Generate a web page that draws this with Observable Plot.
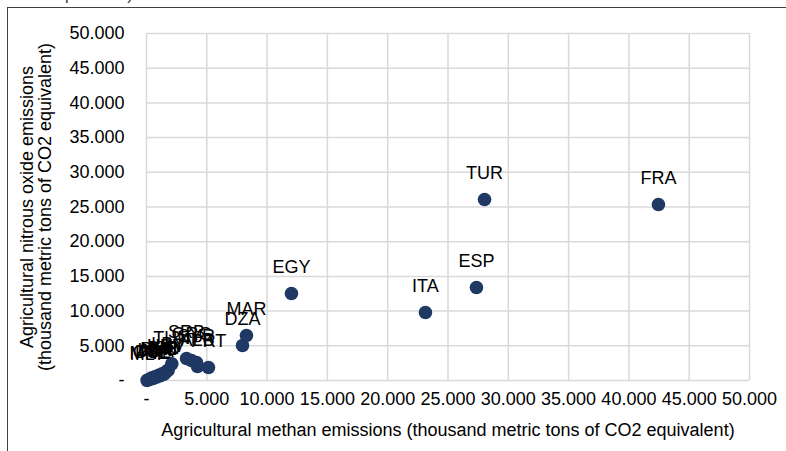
<!DOCTYPE html>
<html><head><meta charset="utf-8">
<script src="https://cdn.jsdelivr.net/npm/d3@7"></script>
<script src="https://cdn.jsdelivr.net/npm/@observablehq/plot@0.6"></script>
<style>
html,body{margin:0;padding:0;background:#fff;overflow:hidden}
#wrap{position:relative;width:786px;height:451px;font-family:"Liberation Sans",Arial,sans-serif}
#wrap svg{display:block}
#frame{position:absolute;left:7px;top:7px;width:800px;height:470px;border-left:1px solid #404040;border-top:1px solid #404040;pointer-events:none}
#title{position:absolute;left:10px;top:-14px;font-size:17px;line-height:17px;color:#404040;white-space:nowrap}
</style></head><body>
<div id="wrap"><div id="title">CO2 equivalent)</div><div id="frame"></div></div>
<script>
const countries = ["MLT","MNE","CYP","PSE","LBN","JOR","SVN","MKD","BIH","ISR","HRV","LBY","TUN","SRB","GRC","SYR","ALB","PRT","DZA","MAR","EGY","ITA","ESP","TUR","FRA"];
const methane  = [50, 250, 400, 550, 700, 850, 1000, 1150, 1300, 1450, 1600, 1800, 2100, 3320, 3730, 4150, 4230, 5140, 7960, 8290, 12020, 23130, 27360, 28030, 42450];
const nitrous  = [20, 150, 350, 300, 550, 500, 750, 700, 950, 900, 1200, 1500, 2400, 3170, 2880, 2590, 2020, 1870, 5040, 6480, 12540, 9800, 13400, 26080, 25360];
const axisTicks = [0, 5000, 10000, 15000, 20000, 25000, 30000, 35000, 40000, 45000, 50000];

const data = countries.map((c, i) => ({country: c, methane: methane[i], nitrous: nitrous[i]}));
const fmt = d => d === 0 ? "-" : d3.format(",")(d).replace(/,/g, ".");

const chart = Plot.plot({
  width: 786,
  height: 451,
  marginLeft: 146,
  marginRight: 37,
  marginTop: 33,
  marginBottom: 71,
  style: {fontFamily: '"Liberation Sans", Arial, sans-serif', fontSize: "18px", color: "#000", background: "transparent", overflow: "visible"},
  x: {domain: [0, 50000], ticks: axisTicks, tickFormat: fmt, tickSize: 0, tickPadding: 12,
      label: "Agricultural methan emissions (thousand metric tons of CO2 equivalent)", labelAnchor: "center", labelOffset: 55, labelArrow: "none"},
  y: {domain: [0, 50000], ticks: axisTicks, tickFormat: fmt, tickSize: 0, tickPadding: 22,
      label: "Agricultural nitrous oxide emissions\n(thousand metric tons of CO2 equivalent)", labelAnchor: "center", labelOffset: 126, labelArrow: "none"},
  marks: [
    Plot.gridX(axisTicks, {stroke: "#d9d9d9", strokeOpacity: 1, strokeWidth: 1.5}),
    Plot.gridY(axisTicks, {stroke: "#d9d9d9", strokeOpacity: 1, strokeWidth: 1.5}),
    Plot.dot(data, {x: "methane", y: "nitrous", r: 6.8, fill: "#1f3864", stroke: "none"}),
    Plot.text(data, {x: "methane", y: "nitrous", text: "country", dy: -26, fontSize: 18, fill: "#000"})
  ]
});
chart.querySelectorAll('[aria-label="x-axis label"] text, [aria-label="y-axis label"] text').forEach(t => t.setAttribute("font-size", "18px"));
document.getElementById("wrap").prepend(chart);
</script>
</body></html>
